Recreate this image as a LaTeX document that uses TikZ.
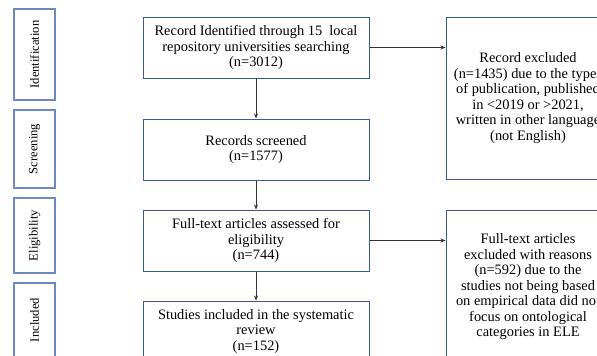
\documentclass[tikz,border=0pt]{standalone}
\usepackage{fontspec}
\setmainfont{Liberation Serif}
\usepackage{xcolor}
\usetikzlibrary{positioning, arrows.meta, calc}
\definecolor{boxblue}{HTML}{3A5A9C}
\definecolor{sideblue}{HTML}{6C89C0}

\begin{document}
\begin{tikzpicture}[x=1pt, y=-1pt, ->, >={Stealth[length=5pt,width=4pt]}, thin, node distance=29pt]
    \tikzstyle{every node}=[font=\fontsize{14.4}{15.5}\selectfont, align=center, inner sep=0pt, text=black]
    \tikzstyle{stagebox}=[draw=boxblue, line width=1pt, minimum width=226pt, minimum height=61pt]
    \tikzstyle{exclbox}=[draw=boxblue, line width=1pt, minimum width=164pt]
    \tikzstyle{phasebox}=[draw=sideblue, line width=1.5pt, rotate=90, minimum height=41pt, font=\fontsize{12.6}{14}\selectfont]
    \tikzstyle{arrow}=[draw=black!80, line width=0.6pt]

    \useasboundingbox (0,0) rectangle (597,356);
    \clip (0,0) rectangle (597,356);

    % Phase labels on the left
    \node[phasebox, minimum width=91pt] (pident) at (34.5,54.5) {Identification};
    \node[phasebox, minimum width=78pt] (pscreen) at (34.5,149) {Screening};
    \node[phasebox, minimum width=75pt] (pelig) at (34.5,235.5) {Eligibility};
    \node[phasebox, minimum width=74pt] (pincl) at (34.5,320) {Included};

    % Main flow
    \node[stagebox] (ident) at (256,47.5) {Record Identified through 15\ \ local\\repository universities searching\\(n=3012)};
    \node[stagebox, below=40pt of ident] (screen) {Records screened\\(n=1577)};
    \node[stagebox, below=of screen] (elig) {Full-text articles assessed for\\eligibility\\(n=744)};
    \node[stagebox, below=of elig] (incl) {Studies included in the systematic\\review\\(n=152)};

    % Excluded records on the right
    \node[exclbox, minimum height=162pt, right=76pt of ident.north east, anchor=north west] (excl1)
        {Record excluded\\(n=1435) due to the types\\of publication, published\\in <2019 or >2021,\\written in other language\\(not English)};
    \node[exclbox, minimum height=154pt, right=76pt of elig.north east, anchor=north west] (excl2)
        {Full-text articles\\excluded with reasons\\(n=592) due to the\\studies not being based\\on empirical data did not\\focus on ontological\\categories in ELE};

    % Arrows
    \draw[arrow] (ident) -- (screen);
    \draw[arrow] (screen) -- (elig);
    \draw[arrow] (elig) -- (incl);
    \draw[arrow] (ident.east) -- (ident.east -| excl1.west);
    \draw[arrow] (elig.east) -- (elig.east -| excl2.west);
\end{tikzpicture}
\end{document}
